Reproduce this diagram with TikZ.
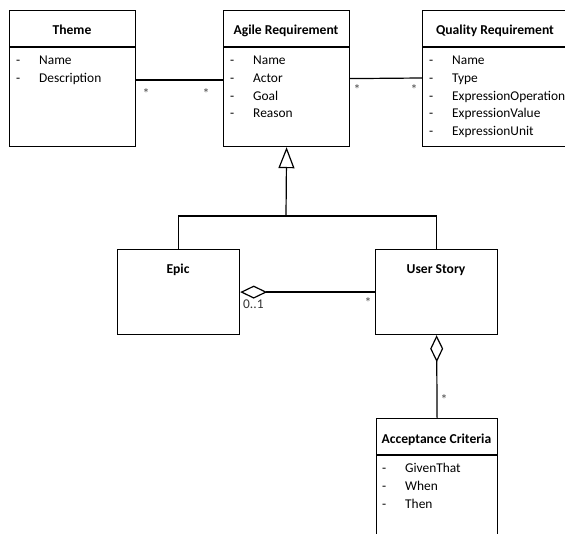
\documentclass[tikz,border=0pt]{standalone}
\usepackage{fontspec}
\setmainfont{Carlito}
\usetikzlibrary{arrows.meta,calc}
\begin{document}
\begin{tikzpicture}[x=1pt,y=-1pt,
  box/.style={draw=black, line width=1.2pt, anchor=north west, inner sep=0pt, fill=white},
  ttl/.style={font=\bfseries\fontsize{13.6}{15}\selectfont, inner sep=0pt, anchor=base},
  attr/.style={font=\fontsize{13.4}{15}\selectfont, inner sep=0pt, anchor=base west},
  mult/.style={font=\fontsize{14}{15}\selectfont, inner sep=0pt, text=black!70},
  conn/.style={draw=black, line width=1.2pt},
  sep/.style={draw=black, line width=1.2pt}]
\useasboundingbox (0,0) rectangle (565,534);
\fill[white] (0,0) rectangle (565,534);

% boxes
\node[box, minimum width=126pt, minimum height=136pt] (theme) at (9,10) {};
\node[box, minimum width=126pt, minimum height=136pt] (agile) at (223,10) {};
\node[box, minimum width=160pt, minimum height=136pt] (qual) at (422,10) {};
\node[box, minimum width=122pt, minimum height=85pt] (epic) at (117,249) {};
\node[box, minimum width=122pt, minimum height=85pt] (us) at (375,249) {};
\node[box, minimum width=121pt, minimum height=130pt] (acc) at (376,418) {};

% header separators
\draw[sep] (9,47) -- (135,47);
\draw[sep] (223,47) -- (349,47);
\draw[sep] (422,47) -- (582,47);
\draw[sep] (376,455) -- (497,455);

% titles
\node[ttl] (themeT) at (72,35) {Theme};
\node[ttl] (agileT) at (286,35) {Agile Requirement};
\node[ttl] (qualT) at (495,35) {Quality Requirement};
\node[ttl] (epicT) at (178,274) {Epic};
\node[ttl] (usT) at (436,274) {User Story};
\node[ttl] (accT) at (436.5,443) {Acceptance Criteria};

% attributes
\foreach \y/\t [count=\i] in {65/Name,83/Description}{
  \node[attr] (thd\i) at (16,\y) {-};
  \node[attr] (tha\i) at (39,\y) {\t};
}
\foreach \y/\t [count=\i] in {65/Name,83/Actor,101/Goal,118/Reason}{
  \node[attr] (agd\i) at (230,\y) {-};
  \node[attr] (aga\i) at (253,\y) {\t};
}
\foreach \y/\t [count=\i] in {65/Name,83/Type,101/ExpressionOperation,118/ExpressionValue,136/ExpressionUnit}{
  \node[attr] (qd\i) at (429,\y) {-};
  \node[attr] (qa\i) at (452,\y) {\t};
}
\foreach \y/\t [count=\i] in {472/GivenThat,490/When,508/Then}{
  \node[attr] (acd\i) at (382,\y) {-};
  \node[attr] (aca\i) at (405,\y) {\t};
}

% associations
\draw[conn] ($(theme.north east)+(0,70)$) -- ($(agile.north west)+(0,70)$);
\draw[conn] (agile.east) -- ($(qual.north west)+(0,68)$);
\node[mult] (m1) at (146,94) {*};
\node[mult] (m2) at (206,94) {*};
\node[mult] (m3) at (357,90) {*};
\node[mult] (m4) at (414,90) {*};

% generalization
\coordinate (j) at (286,216);
\draw[conn] (epic.north) |- (j) -| (us.north);
\draw[conn, -{Triangle[open, length=21pt, width=16pt, line width=1.2pt]}] (j) -- (agile.south);

% aggregations
\draw[conn, {Diamond[open, length=27pt, width=13pt, line width=1.2pt, fill=white]}-] (epic.east) -- (us.west);
\node[font=\fontsize{13.4}{15}\selectfont, inner sep=0pt, text=black!80, anchor=base west] (m5) at (243,309) {0..1};
\node[mult] (m6) at (368,303) {*};
\draw[conn, {Diamond[open, length=27pt, width=13pt, line width=1.2pt, fill=white]}-] (us.south) -- (acc.north);
\node[mult] (m7) at (444,400) {*};
\end{tikzpicture}
\end{document}
